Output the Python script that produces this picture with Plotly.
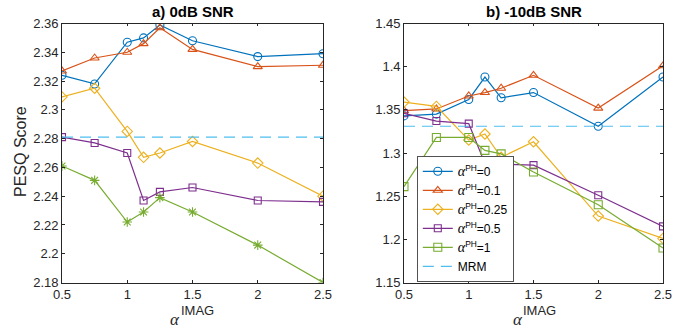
import plotly.graph_objects as go

W, H = 692, 333

x_vals = [0.5, 0.75, 1, 1.125, 1.25, 1.5, 2, 2.5]

# Panel a) 0dB SNR
a_ph0 = [2.324, 2.318, 2.347, 2.350, 2.359, 2.348, 2.337, 2.339]
a_ph01 = [2.327, 2.336, 2.340, 2.346, 2.357, 2.342, 2.330, 2.331]
a_ph025 = [2.309, 2.315, 2.285, 2.267, 2.270, 2.278, 2.263, 2.240]
a_ph05 = [2.281, 2.277, 2.270, 2.237, 2.243, 2.246, 2.237, 2.236]
a_ph1 = [2.261, 2.251, 2.222, 2.229, 2.239, 2.229, 2.206, 2.180]
a_mrm = 2.281

# Panel b) -10dB SNR
b_ph0 = [1.343, 1.345, 1.362, 1.388, 1.364, 1.370, 1.331, 1.388]
b_ph01 = [1.349, 1.351, 1.366, 1.370, 1.375, 1.390, 1.352, 1.401]
b_ph025 = [1.359, 1.354, 1.315, 1.322, 1.295, 1.313, 1.227, 1.201]
b_ph05 = [1.346, 1.337, 1.334, 1.288, 1.287, 1.286, 1.251, 1.215]
b_ph1 = [1.261, 1.318, 1.318, 1.303, 1.299, 1.278, 1.240, 1.190]
b_mrm = 1.331

x_ticks = [0.5, 1, 1.5, 2, 2.5]
x_ticktext = ["0.5", "1", "1.5", "2", "2.5"]
a_yticks = [2.18, 2.2, 2.22, 2.24, 2.26, 2.28, 2.3, 2.32, 2.34, 2.36]
a_yticktext = ["2.18", "2.2", "2.22", "2.24", "2.26", "2.28", "2.3", "2.32", "2.34", "2.36"]
b_yticks = [1.15, 1.2, 1.25, 1.3, 1.35, 1.4, 1.45]
b_yticktext = ["1.15", "1.2", "1.25", "1.3", "1.35", "1.4", "1.45"]

names = ["0", "0.1", "0.25", "0.5", "1"]
colors = ["#0072BD", "#D95319", "#EDB120", "#7E2F8E", "#77AC30"]
mrm_color = "#4DBEEE"

sym_a = ["circle-open", "triangle-up-open", "diamond-open", "square-open", "asterisk-open"]
sym_b = ["circle-open", "triangle-up-open", "diamond-open", "square-open", "square-open"]
msize = [8, 8, 8, 7, 8]

fig = go.Figure()

alpha = '<span style="font-family:Liberation Serif;font-size:14px"><i>α</i></span>'

for i, ys in enumerate([a_ph0, a_ph01, a_ph025, a_ph05, a_ph1]):
    fig.add_trace(go.Scatter(
        x=x_vals, y=ys, mode="lines+markers", xaxis="x", yaxis="y",
        line=dict(color=colors[i], width=1.2),
        marker=dict(symbol=sym_a[i], size=msize[i], color=colors[i],
                    line=dict(width=1.1, color=colors[i])),
        showlegend=False))
fig.add_trace(go.Scatter(
    x=[0.5, 2.5], y=[a_mrm, a_mrm], mode="lines", xaxis="x", yaxis="y",
    line=dict(color=mrm_color, width=1.2, dash="11px,7px"), showlegend=False))

for i, ys in enumerate([b_ph0, b_ph01, b_ph025, b_ph05, b_ph1]):
    fig.add_trace(go.Scatter(
        x=x_vals, y=ys, mode="lines+markers", xaxis="x2", yaxis="y2",
        name=alpha + "<sup>PH</sup>=" + names[i],
        line=dict(color=colors[i], width=1.2),
        marker=dict(symbol=sym_b[i], size=msize[i], color=colors[i],
                    line=dict(width=1.1, color=colors[i]))))
fig.add_trace(go.Scatter(
    x=[0.5, 2.5], y=[b_mrm, b_mrm], mode="lines", xaxis="x2", yaxis="y2",
    name="MRM",
    line=dict(color=mrm_color, width=1.2, dash="11px,7px")))

axcol = "#262626"
common_x = dict(range=[0.5, 2.5], tickvals=x_ticks, ticktext=x_ticktext,
                ticks="inside", ticklen=3, tickcolor=axcol, showline=True,
                linecolor=axcol, linewidth=0.8, mirror="ticks", showgrid=False,
                zeroline=False, automargin=False,
                tickfont=dict(family="Liberation Sans", size=13, color=axcol))
common_y = dict(ticks="inside", ticklen=3, tickcolor=axcol, showline=True,
                linecolor=axcol, linewidth=0.8, mirror="ticks", showgrid=False,
                zeroline=False, automargin=False,
                tickfont=dict(family="Liberation Sans", size=13, color=axcol))

yd = [1 - 282.5 / H, 1 - 23.5 / H]
fig.update_layout(
    width=W, height=H,
    margin=dict(l=0, r=0, t=0, b=0, autoexpand=False),
    paper_bgcolor="white", plot_bgcolor="white",
    xaxis=dict(domain=[62 / W, 323 / W], anchor="y", **common_x),
    yaxis=dict(domain=yd, anchor="x", range=[2.18, 2.36], tickvals=a_yticks,
               ticktext=a_yticktext, **common_y),
    xaxis2=dict(domain=[404 / W, 663 / W], anchor="y2", **common_x),
    yaxis2=dict(domain=yd, anchor="x2", range=[1.15, 1.45], tickvals=b_yticks,
                ticktext=b_yticktext, **common_y),
    legend=dict(x=417 / W, y=1 - 282 / H, xanchor="left", yanchor="bottom",
                bgcolor="white", bordercolor=axcol, borderwidth=0.8,
                font=dict(family="Liberation Sans", size=12, color="black"),
                tracegroupgap=0),
    showlegend=True,
)


def px_x(v):
    return v / W


def px_y(v):
    return 1 - v / H


ann = []
ann.append(dict(text="<b>a) 0dB SNR</b>", x=px_x(192.5), y=px_y(12)))
ann.append(dict(text="<b>b) -10dB SNR</b>", x=px_x(533.5), y=px_y(12)))
for a in ann:
    a.update(font=dict(family="Liberation Sans", size=15, color="black"))
ann.append(dict(text="PESQ Score", x=px_x(21), y=px_y(152), textangle=-90,
                font=dict(family="Liberation Sans", size=16, color=axcol)))
for cx in [175, 517.5]:
    ann.append(dict(text="<i>α</i>", x=px_x(cx), y=px_y(319),
                    font=dict(family="Liberation Serif", size=17, color=axcol)))
    ann.append(dict(text="IMAG", x=px_x(cx + 22), y=px_y(310),
                    font=dict(family="Liberation Sans", size=13, color=axcol)))
for a in ann:
    a.update(xref="paper", yref="paper", xanchor="center", yanchor="middle",
             showarrow=False)
fig.update_layout(annotations=ann)

fig.write_html("out.html", config={"displayModeBar": False},
               post_script="document.body.style.margin='0';document.body.style.overflow='hidden';")
